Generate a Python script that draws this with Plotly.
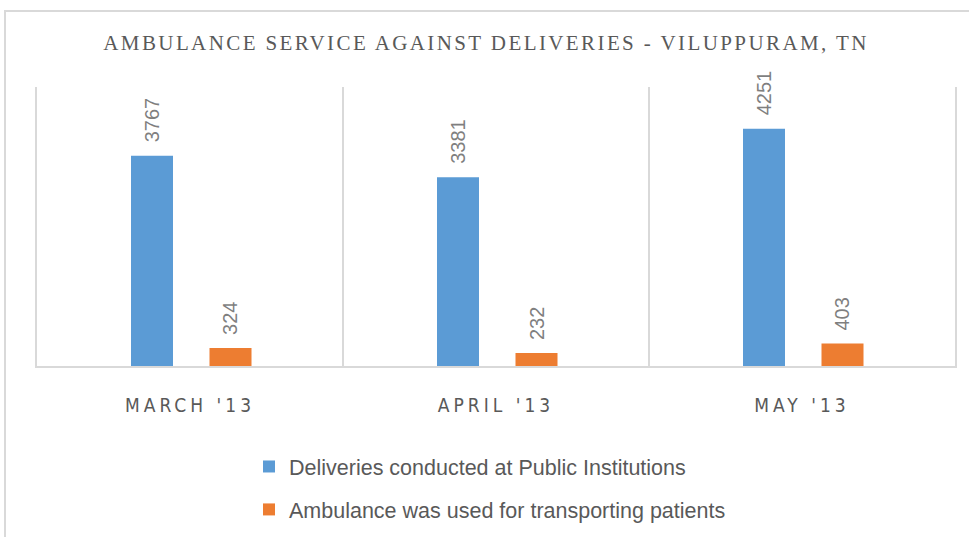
import plotly.graph_objects as go

categories = ["MARCH '13", "APRIL '13", "MAY '13"]
deliveries = [3767, 3381, 4251]
ambulance = [324, 232, 403]
series_names = ["Deliveries conducted at Public Institutions",
                "Ambulance was used for transporting patients"]
colors = ["#5B9BD5", "#ED7D31"]
title_text = "AMBULANCE SERVICE AGAINST DELIVERIES - VILUPPURAM, TN"

W, H = 969, 537
L, R, T, B = 37, 14, 87, 171
pw, ph = W - L - R, H - T - B
cat_px = pw / len(categories)
bar_w = 42 / cat_px
offsets = [(-38 - 21) / cat_px, (40.5 - 21) / cat_px]
label_shift = [-38, 40.5]

def spaced(s, px):
    return f'<span style="letter-spacing:{px}px">{s}</span>'

fig = go.Figure()
for name, vals, col, off in zip(series_names, [deliveries, ambulance], colors, offsets):
    fig.add_trace(go.Bar(x=categories, y=vals, name=name, marker_color=col,
                         marker_line_width=0, legendgroup=name,
                         width=bar_w, offset=off))

# data labels
for k, vals in enumerate([deliveries, ambulance]):
    for c, v in zip(categories, vals):
        fig.add_annotation(x=c, y=v, text=str(v), showarrow=False, textangle=-90,
                           xshift=label_shift[k], yshift=11, yanchor="bottom", xanchor="center",
                           font=dict(family="Liberation Sans", size=20, color="#7F7F7F"))

# chart border
fig.add_shape(type="rect", xref="paper", yref="paper", layer="below",
              x0=(5 - L) / pw, x1=(W + 10 - L) / pw,
              y0=-(H + 10 - (H - B)) / ph, y1=((H - B) - 11) / ph,
              line=dict(color="#D9D9D9", width=2), fillcolor="rgba(0,0,0,0)")

fig.update_layout(
    width=W, height=H,
    margin=dict(l=L, r=R, t=T, b=B),
    paper_bgcolor="white", plot_bgcolor="white",
    barmode="overlay",
    title=dict(text=spaced(title_text, 2.4), x=486 / W, xref="container", xanchor="center",
               y=1 - 43 / H, yref="container", yanchor="middle",
               font=dict(family="Liberation Serif", size=21, color="#595959")),
    xaxis=dict(type="category", tickson="boundaries", showgrid=True, gridcolor="#D9D9D9",
               gridwidth=2, showline=True, linecolor="#D9D9D9", linewidth=2,
               ticks="", tickvals=categories, ticktext=[spaced(c, 4) for c in categories],
               ticklabelstandoff=21, automargin=False,
               tickfont=dict(family="Liberation Sans Narrow, DejaVu Sans Condensed, Liberation Sans",
                             size=19, color="#595959"),
               range=[-0.5, 2.5]),
    yaxis=dict(range=[0, 5000], showgrid=False, zeroline=False, showticklabels=False,
               showline=True, mirror=True, linecolor="#D9D9D9", linewidth=2, ticks="",
               automargin=False),
    legend=dict(x=(249 - L) / pw, xref="paper", xanchor="left",
                y=1 - 446 / H, yref="container", yanchor="top",
                font=dict(family="Liberation Sans", size=21.5, color="#595959"),
                tracegroupgap=12, bgcolor="rgba(0,0,0,0)", itemwidth=30),
    showlegend=True,
)

fig.write_html("out.html", post_script="document.body.style.margin='0';",
               config={"displayModeBar": False})
